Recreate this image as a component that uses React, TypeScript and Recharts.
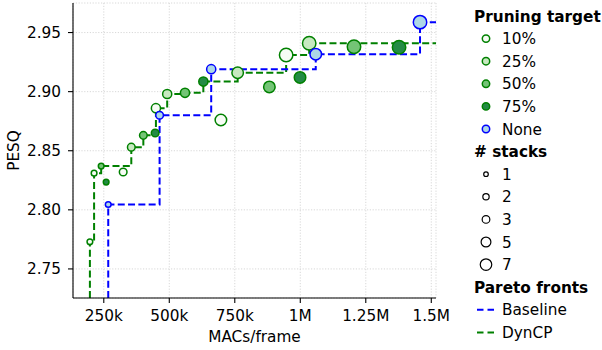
import { ComposedChart, Line, Scatter, XAxis, YAxis, CartesianGrid } from 'recharts'

// MACs/frame, PESQ and number of stacks per pruning target
const macs10 = [197000, 213000, 324000, 449000, 697000, 946000]
const pesq10 = [2.773, 2.831, 2.832, 2.886, 2.876, 2.931]
const stacks10 = [1, 1, 2, 3, 5, 7]

const macs25 = [355000, 492000, 761000, 1034000]
const pesq25 = [2.853, 2.898, 2.916, 2.941]
const stacks25 = [2, 3, 5, 7]

const macs50 = [240000, 401000, 560000, 882000, 1205000]
const pesq50 = [2.837, 2.863, 2.899, 2.904, 2.938]
const stacks50 = [1, 2, 3, 5, 7]

const macs75 = [259000, 446000, 630000, 999000, 1377000]
const pesq75 = [2.8235, 2.865, 2.9085, 2.912, 2.9375]
const stacks75 = [1, 2, 3, 5, 7]

const macsBase = [267000, 463000, 660000, 1059000, 1457000]
const pesqBase = [2.8045, 2.88, 2.919, 2.9317, 2.9588]
const stacksBase = [1, 2, 3, 5, 7]

const xTicks = [250000, 500000, 750000, 1000000, 1250000, 1500000]
const xTickLabels = ['250k', '500k', '750k', '1M', '1.25M', '1.5M']
const yTicks = [2.75, 2.8, 2.85, 2.9, 2.95]
const stackSizes = [1, 2, 3, 5, 7]

const X_DOMAIN: [number, number] = [132500, 1518000]
const Y_DOMAIN: [number, number] = [2.7254, 2.975]
const FONT = '"DejaVu Sans", sans-serif'
const FS = 15.3

type Pt = { x: number; y: number; stacks: number }

const toPoints = (macs: number[], pesq: number[], stacks: number[]): Pt[] =>
  macs.map((x, i) => ({ x, y: pesq[i], stacks: stacks[i] }))

const groups = [
  { name: '10%', fill: '#f7fcf5', stroke: 'green', pts: toPoints(macs10, pesq10, stacks10) },
  { name: '25%', fill: '#c7e9c0', stroke: 'green', pts: toPoints(macs25, pesq25, stacks25) },
  { name: '50%', fill: '#74c476', stroke: 'green', pts: toPoints(macs50, pesq50, stacks50) },
  { name: '75%', fill: '#238b45', stroke: 'green', pts: toPoints(macs75, pesq75, stacks75) },
  { name: 'None', fill: '#add8e6', stroke: 'blue', pts: toPoints(macsBase, pesqBase, stacksBase) },
]

// step line along the upper-left frontier
function paretoFront(pts: Pt[]) {
  const sorted = [...pts].sort((a, b) => a.x - b.x)
  const front: { x: number; y: number }[] = []
  let best = -Infinity
  for (const p of sorted) {
    if (p.y > best) {
      front.push({ x: p.x, y: p.y })
      best = p.y
    }
  }
  return [
    { x: front[0].x, y: Y_DOMAIN[0] },
    ...front,
    { x: X_DOMAIN[1], y: front[front.length - 1].y },
  ]
}

const dynPts = groups.slice(0, 4).flatMap(g => g.pts)
const frontDyn = paretoFront(dynPts)
const frontBase = paretoFront(groups[4].pts)

const radius = (n: number) => 0.5 + 2.35 * Math.sqrt(n)

const fronts = [
  { name: 'Baseline', color: 'blue', data: frontBase },
  { name: 'DynCP', color: 'green', data: frontDyn },
]

function LegendBox() {
  const rowH = 22.6
  const top = 16
  const rows: React.ReactNode[] = []
  let i = 0
  const header = (t: string) => (
    <text key={'h' + t} x={8} y={top + i++ * rowH} dy="0.36em" fontWeight="bold">{t}</text>
  )
  rows.push(header('Pruning target'))
  for (const g of groups) {
    const y = top + i++ * rowH
    rows.push(
      <g key={g.name}>
        <circle cx={20} cy={y} r={3.7} fill={g.fill} stroke={g.stroke} strokeWidth={1.5} />
        <text x={36} y={y} dy="0.36em">{g.name}</text>
      </g>
    )
  }
  rows.push(header('# stacks'))
  for (const s of stackSizes) {
    const y = top + i++ * rowH
    rows.push(
      <g key={'s' + s}>
        <circle cx={20} cy={y} r={0.2 + 2.1 * Math.sqrt(s)} fill="none" stroke="#000" strokeWidth={1.2} />
        <text x={36} y={y} dy="0.36em">{s}</text>
      </g>
    )
  }
  rows.push(header('Pareto fronts'))
  for (const f of fronts) {
    const y = top + i++ * rowH
    rows.push(
      <g key={f.name}>
        <line x1={11} x2={30} y1={y} y2={y} stroke={f.color} strokeWidth={2} strokeDasharray="6.5 4" />
        <text x={36} y={y} dy="0.36em">{f.name}</text>
      </g>
    )
  }
  return (
    <svg width={136} height={350} style={{ position: 'absolute', left: 466, top: 0 }}
      fontFamily={FONT} fontSize={FS} fill="#000">
      {rows}
    </svg>
  )
}

export default function App() {
  return (
    <div style={{ position: 'absolute', left: 0, top: 0, width: 602, height: 350, background: '#fff' }}>
      <ComposedChart width={602} height={350} margin={{ top: 3, right: 166, left: 0, bottom: 0 }}
        style={{ fontFamily: FONT }}>
        <CartesianGrid stroke="#d4d4d4" strokeDasharray="1.2 1.6" strokeWidth={0.9} />
        <XAxis dataKey="x" type="number" domain={X_DOMAIN} ticks={xTicks} allowDataOverflow
          tickFormatter={(v: number) => xTickLabels[xTicks.indexOf(v)] ?? ''}
          height={52} tickSize={5} tickMargin={7}
          tick={{ fill: '#000', fontSize: FS }}
          axisLine={{ stroke: '#000', strokeWidth: 1.1 }} tickLine={{ stroke: '#000', strokeWidth: 1.1 }}
          label={{ value: 'MACs/frame', position: 'insideBottom', offset: 8, fill: '#000', fontSize: FS }} />
        <XAxis xAxisId="top" orientation="top" type="number" domain={X_DOMAIN} allowDataOverflow
          height={0} tick={false} tickLine={false} axisLine={{ stroke: '#000', strokeWidth: 1.1 }} />
        <YAxis type="number" domain={Y_DOMAIN} ticks={yTicks} allowDataOverflow width={73}
          tickFormatter={(v: number) => v.toFixed(2)} tickSize={5} tickMargin={7}
          tick={{ fill: '#000', fontSize: FS }}
          axisLine={{ stroke: '#000', strokeWidth: 1.1 }} tickLine={{ stroke: '#000', strokeWidth: 1.1 }}
          label={{ value: 'PESQ', angle: -90, position: 'insideLeft', offset: 14, fill: '#000', fontSize: FS, style: { textAnchor: 'middle' } }} />
        <YAxis yAxisId="right" orientation="right" type="number" domain={Y_DOMAIN} allowDataOverflow
          width={0} tick={false} tickLine={false} axisLine={{ stroke: '#000', strokeWidth: 1.1 }} />
        {fronts.slice().reverse().map(f => (
          <Line key={f.name} data={f.data} dataKey="y" type="stepAfter" stroke={f.color} strokeWidth={2}
            strokeDasharray="7 3.3" dot={false} activeDot={false} isAnimationActive={false} />
        ))}
        {groups.map(g => (
          <Scatter key={g.name} data={g.pts} dataKey="y" isAnimationActive={false}
            shape={(p: any) => (
              <circle cx={p.cx} cy={p.cy} r={radius(p.payload.stacks)} fill={g.fill}
                stroke={g.stroke} strokeWidth={1.5} />
            )} />
        ))}
      </ComposedChart>
      <LegendBox />
    </div>
  )
}
